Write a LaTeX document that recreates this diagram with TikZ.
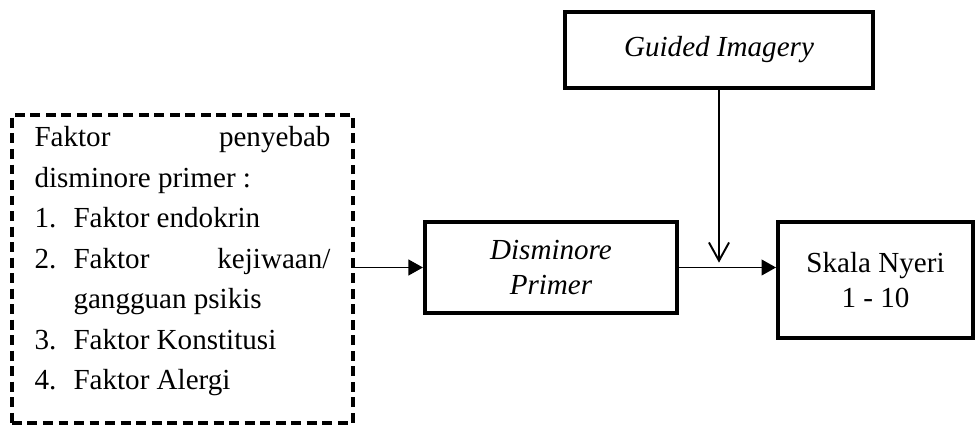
\documentclass[tikz,border=0pt]{standalone}
\usepackage{fontspec}
\setmainfont{Liberation Serif}
\usetikzlibrary{arrows.meta, positioning}

\begin{document}
\begin{tikzpicture}[x=0.4125pt,y=0.4125pt,>={Triangle[length=6pt,width=6.5pt]},line width=0.8pt,
	box/.style={draw,line width=1.65pt,align=center,font=\fontsize{12}{14.2}\selectfont},
	dbox/.style={draw,line width=1.4pt,dash pattern=on 4.1pt off 2.3pt,align=justify,font=\fontsize{12}{16.7}\selectfont},]
	\useasboundingbox (0,0) rectangle (975,426);
	\node[dbox,text width=122.1pt,inner xsep=9.3pt,minimum height=127pt] (fak) at (182.5,157) {Faktor \hfill penyebab\\
		disminore primer :\\
		\makebox[16.1pt][l]{1.}Faktor endokrin\\
		\makebox[16.1pt][l]{2.}Faktor \hfill kejiwaan/\\
		\hspace*{16.1pt}gangguan psikis\\
		\makebox[16.1pt][l]{3.}Faktor Konstitusi\\
		\makebox[16.1pt][l]{4.}Faktor Alergi\rule[-9pt]{0pt}{9pt}};
	\node[box,minimum width=127pt,minimum height=31.4pt] (gi) at (719,376) {\textit{Guided Imagery}};
	\node[box,minimum width=104pt,minimum height=37.5pt] (dis) at (551,158.5) {\textit{Disminore}\\ \textit{Primer}};
	\node[box,minimum width=80.4pt,minimum height=47.9pt] (sk) at (875.5,146) {Skala Nyeri\\ 1 - 10};

	\draw[->] (fak.east |- dis.west) -- (dis.west);
	\draw[->] (dis.east) -- (dis.east -| sk.west);
	\draw[-{Straight Barb[length=7.5pt,width=8.3pt]},shorten >=2pt] (gi.south) -- (gi.south |- dis.east);
\end{tikzpicture}
\end{document}
